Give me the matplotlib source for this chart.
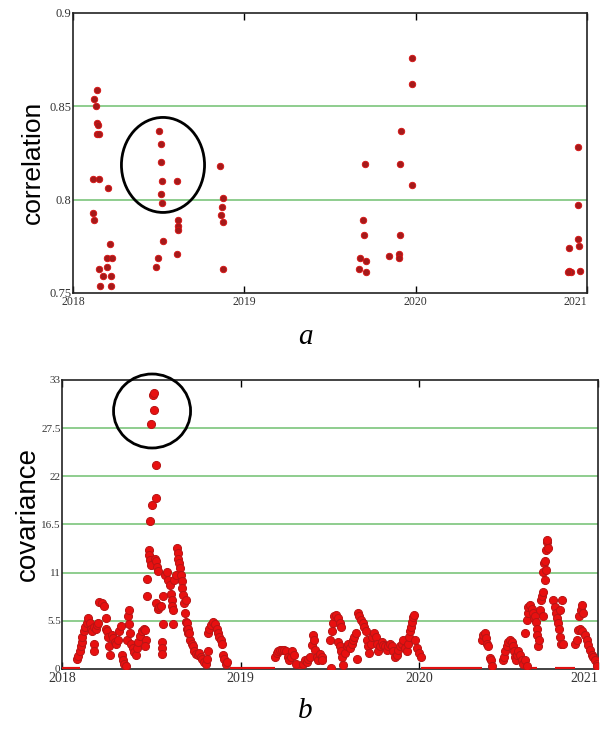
import matplotlib
matplotlib.use('Agg')
import matplotlib.pyplot as plt
from matplotlib.patches import Ellipse

# panel a: correlation points (year, value)
corr_year = [2018.142, 2018.125, 2018.132, 2018.138, 2018.148, 2018.138, 2018.150, 2018.119, 2018.152,
             2018.202, 2018.115, 2018.123, 2018.216, 2018.200, 2018.230, 2018.154, 2018.196, 2018.177,
             2018.222, 2018.158, 2018.222,
             2018.504, 2018.514, 2018.512, 2018.518, 2018.605, 2018.512, 2018.518, 2018.615, 2018.615,
             2018.611, 2018.523, 2018.498, 2018.484, 2018.605,
             2018.858, 2018.874, 2018.868, 2018.866, 2018.874, 2018.874,
             2019.977, 2019.977, 2019.916, 2019.702, 2019.908, 2019.977, 2020.945, 2020.945, 2019.690,
             2019.698, 2019.908, 2020.945, 2020.955, 2020.893, 2019.674, 2019.710, 2019.846, 2019.901,
             2019.901, 2019.667, 2019.710, 2020.897, 2020.903, 2020.961, 2020.887]
corr_val = [0.859, 0.854, 0.850, 0.841, 0.840, 0.835, 0.835, 0.811, 0.811,
            0.806, 0.793, 0.789, 0.776, 0.769, 0.769, 0.763, 0.764, 0.759,
            0.759, 0.754, 0.754,
            0.837, 0.830, 0.820, 0.810, 0.810, 0.803, 0.798, 0.789, 0.786,
            0.784, 0.778, 0.769, 0.764, 0.771,
            0.818, 0.801, 0.796, 0.792, 0.788, 0.763,
            0.876, 0.862, 0.837, 0.819, 0.819, 0.808, 0.828, 0.797, 0.789,
            0.781, 0.781, 0.779, 0.775, 0.774, 0.769, 0.767, 0.770, 0.771,
            0.769, 0.763, 0.761, 0.762, 0.761, 0.762, 0.761]

# panel b: covariance points
cov_year = [2018.082, 2018.091, 2018.099, 2018.104, 2018.110, 2018.114, 2018.121, 2018.129, 2018.138, 2018.147,
            2018.155, 2018.162, 2018.170, 2018.177, 2018.181, 2018.181, 2018.188, 2018.196, 2018.203, 2018.209,
            2018.222, 2018.233, 2018.244, 2018.244, 2018.252, 2018.259, 2018.265, 2018.271, 2018.278, 2018.287,
            2018.297, 2018.304, 2018.312, 2018.319, 2018.328, 2018.334, 2018.340, 2018.347, 2018.356, 2018.366,
            2018.369, 2018.373, 2018.377, 2018.382, 2018.388, 2018.396, 2018.403, 2018.412, 2018.420, 2018.427,
            2018.437, 2018.446, 2018.457, 2018.466, 2018.472, 2018.465,
            2018.476, 2018.476, 2018.485, 2018.489, 2018.493, 2018.496,
            2018.493, 2018.502, 2018.526, 2018.524, 2018.498, 2018.515, 2018.511, 2018.517,
            2018.521, 2018.526, 2018.532, 2018.535, 2018.526, 2018.535, 2018.545, 2018.554, 2018.563, 2018.567,
            2018.558, 2018.562, 2018.562, 2018.576, 2018.586, 2018.595, 2018.604, 2018.610, 2018.614, 2018.618,
            2018.623, 2018.623, 2018.629, 2018.636, 2018.644, 2018.647, 2018.651, 2018.655, 2018.660, 2018.666,
            2018.670, 2018.673, 2018.677, 2018.681, 2018.688, 2018.694, 2018.700, 2018.707, 2018.716,
            2018.694, 2018.698, 2018.703, 2018.711, 2018.726, 2018.735, 2018.741, 2018.748, 2018.760, 2018.767,
            2018.778, 2018.786, 2018.797, 2018.804, 2018.811, 2018.819, 2018.815, 2018.823, 2018.834, 2018.847,
            2018.856, 2018.866, 2018.871, 2018.881, 2018.890, 2018.894, 2018.903, 2018.909, 2018.916, 2018.924,
            2019.192, 2019.201, 2019.210, 2019.222, 2019.233, 2019.244, 2019.254, 2019.263, 2019.270, 2019.282,
            2019.289, 2019.300, 2019.308, 2019.351, 2019.360, 2019.369, 2019.379, 2019.388, 2019.397, 2019.403,
            2019.409, 2019.416, 2019.425, 2019.435, 2019.444, 2019.453, 2019.454, 2019.506,
            2019.500, 2019.510, 2019.519, 2019.524, 2019.534, 2019.547, 2019.556, 2019.562, 2019.547, 2019.556,
            2019.562, 2019.569, 2019.575, 2019.584, 2019.593, 2019.603, 2019.612, 2019.621, 2019.631, 2019.636,
            2019.644, 2019.649, 2019.655, 2019.664, 2019.674, 2019.683, 2019.692, 2019.700, 2019.705, 2019.714,
            2019.720, 2019.729, 2019.737, 2019.746, 2019.756, 2019.763, 2019.771, 2019.780, 2019.789, 2019.799,
            2019.808, 2019.817, 2019.826, 2019.836, 2019.845, 2019.854, 2019.864, 2019.873, 2019.882, 2019.892,
            2019.901, 2019.910, 2019.920, 2019.929, 2019.938, 2019.944, 2019.950, 2019.955, 2019.961, 2019.966,
            2019.972, 2019.976, 2019.985, 2019.998, 2020.009,
            2020.349, 2020.358, 2020.367, 2020.373, 2020.380, 2020.386, 2020.395, 2020.399, 2020.405,
            2020.466, 2020.474, 2020.479, 2020.489, 2020.498, 2020.507, 2020.517, 2020.522, 2020.530, 2020.535,
            2020.541, 2020.548, 2020.554, 2020.563, 2020.573, 2020.582, 2020.591, 2020.601,
            2020.591, 2020.601, 2020.606, 2020.610, 2020.619, 2020.628, 2020.634, 2020.642, 2020.647, 2020.653,
            2020.657, 2020.660, 2020.662, 2020.668, 2020.675, 2020.681, 2020.686, 2020.690, 2020.694, 2020.698,
            2020.709, 2020.716, 2020.703, 2020.690, 2020.713, 2020.722, 2020.704, 2020.709,
            2020.750, 2020.759, 2020.765, 2020.772, 2020.778, 2020.784, 2020.787, 2020.793, 2020.797, 2020.787,
            2020.806,
            2020.871, 2020.881, 2020.890, 2020.896, 2020.903, 2020.909, 2020.915, 2020.899, 2020.909, 2020.927,
            2020.937, 2020.946, 2020.955, 2020.965, 2020.974, 2020.983, 2020.993, 2020.996]
cov_val = [1.1, 1.5, 2.0, 2.6, 3.1, 3.7, 4.3, 4.8, 5.2, 5.8,
           5.2, 4.6, 4.3, 4.8, 2.9, 2.1, 4.6, 5.0, 5.3, 7.7,
           7.5, 7.2, 5.8, 4.6, 4.3, 3.7, 2.6, 1.6, 3.9, 3.5,
           3.1, 2.9, 3.3, 4.3, 4.9, 1.6, 1.0, 0.6, 0.3, 3.3,
           6.0, 6.7, 5.1, 4.1, 2.9, 2.4, 1.9, 1.6, 2.4, 3.1,
           3.8, 4.3, 4.6, 4.5, 3.3, 2.6,
           8.3, 10.3, 13.6, 13.0, 12.4, 11.9,
           16.9, 18.7, 19.5, 23.3, 28.0, 29.6, 31.3, 31.5,
           12.6, 12.3, 11.7, 11.2, 7.5, 6.9, 7.1, 7.2, 8.3, 5.1,
           3.1, 2.4, 1.7, 10.7, 11.1, 10.2, 9.6, 8.6, 7.9, 7.2,
           6.7, 5.1, 10.2, 10.7, 13.8, 13.2, 12.6, 12.1, 11.5, 10.7,
           10.0, 9.2, 8.5, 7.5, 6.4, 5.4, 4.6, 4.1, 3.3,
           7.9, 5.2, 4.6, 4.1, 2.9, 2.6, 2.0, 1.7, 1.6, 1.8,
           1.4, 1.1, 0.8, 0.6, 1.1, 2.0, 4.1, 4.6, 5.0, 5.4,
           5.1, 4.6, 4.1, 3.7, 3.3, 2.9, 1.6, 1.1, 0.6, 0.8,
           1.4, 1.8, 2.0, 2.2, 2.2, 2.2, 2.0, 1.4, 1.0, 1.4,
           2.0, 1.6, 0.6, 0.6, 1.0, 0.8, 1.1, 1.4, 2.7, 3.9,
           3.3, 2.2, 1.4, 1.0, 1.7, 1.4, 1.0, 0.1,
           3.3, 4.3, 5.2, 6.0, 6.2, 5.8, 5.2, 4.8, 3.1, 2.6,
           2.0, 1.4, 0.5, 1.8, 2.6, 2.9, 2.4, 2.9, 3.3, 3.7,
           4.1, 1.1, 6.4, 6.0, 5.6, 5.2, 4.8, 4.3, 3.3, 2.6,
           1.8, 2.9, 3.7, 4.1, 3.7, 2.9, 2.0, 2.6, 3.1, 2.7,
           2.6, 2.2, 2.6, 2.9, 2.6, 2.0, 1.4, 1.6, 2.2, 2.6,
           2.9, 3.3, 2.4, 2.0, 2.9, 3.7, 4.3, 4.8, 5.4, 5.9,
           6.2, 3.3, 2.4, 1.8, 1.4,
           3.3, 3.9, 4.1, 3.5, 2.9, 2.6, 1.2, 1.0, 0.3,
           1.0, 1.4, 2.0, 2.6, 3.1, 3.3, 3.1, 2.6, 2.0, 1.4,
           1.0, 1.6, 2.0, 1.6, 1.0, 0.6, 1.0, 0.3,
           4.1, 5.6, 6.4, 7.1, 7.3, 6.9, 6.4, 5.8, 6.0, 5.4,
           4.6, 3.9, 2.6, 3.3, 6.7, 7.9, 8.3, 8.8, 11.1, 12.1,
           13.6, 14.5, 10.2, 6.0, 14.7, 13.8, 12.3, 11.3,
           7.9, 7.1, 6.4, 5.8, 5.2, 4.6, 3.7, 2.9, 7.9, 6.7,
           2.9,
           2.9, 3.3, 4.5, 6.0, 6.7, 7.3, 6.4, 4.6, 4.3, 3.9,
           3.3, 2.7, 2.2, 1.6, 1.4, 1.0, 0.6, 0.3]

# stretches where the covariance sits on zero
zero_start = [2018.0, 2018.94, 2019.31, 2020.01, 2020.60, 2020.76]
zero_end = [2018.10, 2019.19, 2019.35, 2020.35, 2020.66, 2020.87]

years = [2018, 2019, 2020, 2021]
corr_ticks = [0.75, 0.8, 0.85, 0.9]
corr_labels = ['0.75', '0.8', '0.85', '0.9']
cov_ticks = [0, 5.5, 11, 16.5, 22, 27.5, 33]
cov_labels = ['0', '5.5', '11', '16.5', '22', '27.5', '33']

grid_col = '#86c986'
serif = 'Liberation Serif'

fig = plt.figure(figsize=(6.02, 7.38), dpi=100)

# --- a ---
ax1 = fig.add_axes([0.1213, 0.6030, 0.854, 0.3794])
ax1.set_xlim(2018, 2021)
ax1.set_ylim(0.75, 0.9)
for g in [0.8, 0.85]:
    ax1.axhline(g, color=grid_col, lw=1.3, zorder=1)
ax1.scatter(corr_year, corr_val, s=22, c='#a51a1a', edgecolors='#d81010', linewidths=0.6, zorder=3)
ax1.add_patch(Ellipse((2018.525, 0.8186), 0.485, 0.0509, fill=False, ec='black', lw=2, zorder=4))
ax1.set_xticks(years)
ax1.set_xticklabels([str(y) for y in years], family=serif, fontsize=8.5, color='#333333')
ax1.set_yticks(corr_ticks)
ax1.set_yticklabels(corr_labels, family=serif, fontsize=9, color='#333333')
ax1.tick_params(axis='x', direction='in', top=True, length=5, width=1, pad=2)
ax1.tick_params(axis='y', length=0, pad=1)
ax1.get_xticklabels()[-1].set_horizontalalignment('right')
fig.text(0.055, 0.78, 'correlation', rotation=90, ha='center', va='center',
         family='Liberation Sans', fontsize=19)
fig.text(0.507, 0.543, 'a', ha='center', va='center', family=serif, style='italic', fontsize=21)

# --- b ---
ax2 = fig.add_axes([0.103, 0.0935, 0.8904, 0.3916])
ax2.set_xlim(2018, 2021)
ax2.set_ylim(0, 33)
for g in cov_ticks[1:-1]:
    ax2.axhline(g, color=grid_col, lw=1.3, zorder=1)
ax2.hlines([0] * len(zero_start), zero_start, zero_end, color='#e01010', lw=3, zorder=3)
ax2.scatter(cov_year, cov_val, s=34, c='#e81010', edgecolors='#b81515', linewidths=0.7, zorder=3)
ax2.add_patch(Ellipse((2018.504, 29.46), 0.431, 8.45, fill=False, ec='black', lw=2,
                      zorder=4, clip_on=False))
ax2.set_xticks(years)
ax2.set_xticklabels([str(y) for y in years], family=serif, fontsize=10, color='#333333')
ax2.set_yticks(cov_ticks)
ax2.set_yticklabels(cov_labels, family=serif, fontsize=8, color='#333333')
ax2.tick_params(axis='x', direction='in', top=True, length=5, width=1, pad=2)
ax2.tick_params(axis='y', length=0, pad=1)
ax2.get_xticklabels()[-1].set_horizontalalignment('right')
fig.text(0.046, 0.303, 'covariance', rotation=90, ha='center', va='center',
         family='Liberation Sans', fontsize=20)
fig.text(0.507, 0.036, 'b', ha='center', va='center', family=serif, style='italic', fontsize=21)

for ax in (ax1, ax2):
    for sp in ax.spines.values():
        sp.set_linewidth(1.2)
        sp.set_color('#222222')

fig.savefig('out.png', dpi=100)
